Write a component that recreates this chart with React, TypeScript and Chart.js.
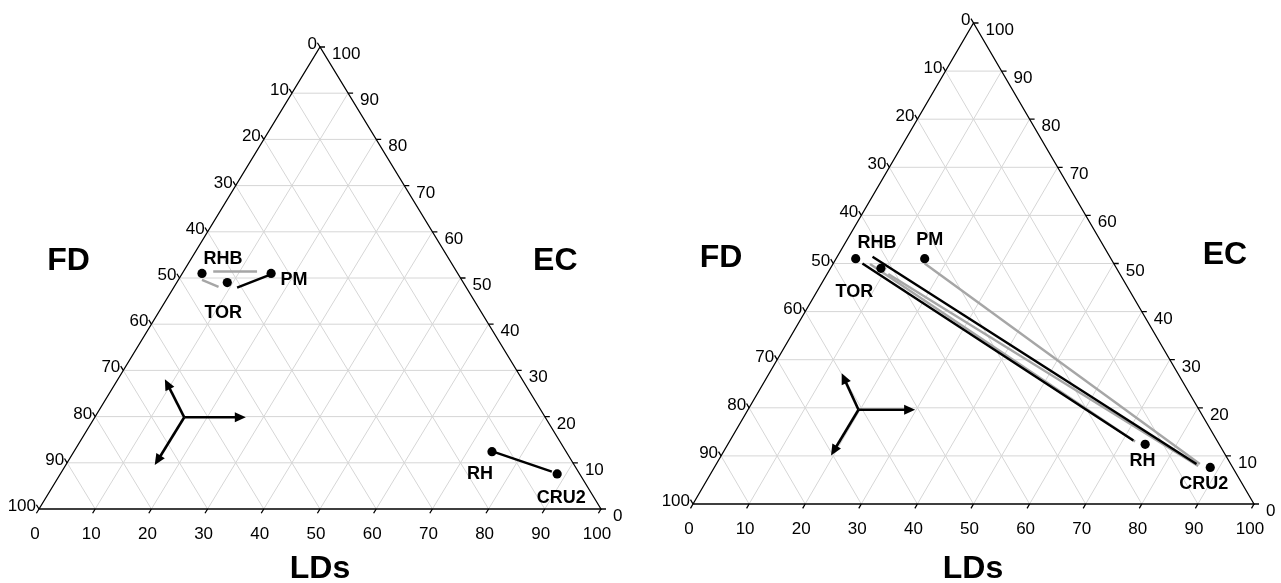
import React, { useEffect, useRef } from "react";
import { Chart, registerables } from "chart.js";

Chart.register(...registerables);

// ---------- data ----------
const tickValues = [0, 10, 20, 30, 40, 50, 60, 70, 80, 90, 100];
const gridValues = [10, 20, 30, 40, 50, 60, 70, 80, 90];
const titleBottom = "LDs";
const titleRight = "EC";
const titleLeft = "FD";

// sample composition (LDs, EC; FD = 100 - LDs - EC)
const sampleNames = ["RHB", "TOR", "PM", "RH", "CRU2"];
const sampleLDs = [3.5, 9.0, 15.8, 74.4, 88.4];
const sampleEC = [51.0, 49.0, 51.0, 12.4, 7.6];

// links, left panel
const leftLinkFromLDs = [5.3, 4.2, 11.3, 74.6];
const leftLinkFromEC = [51.4, 49.6, 47.9, 12.4];
const leftLinkToLDs = [13.1, 7.9, 15.7, 87.2];
const leftLinkToEC = [51.4, 48.1, 50.7, 8.1];
const leftLinkKind = ["grey", "grey", "black", "black"];

// links, right panel
const rightLinkFromLDs = [6.3, 5.2, 16.3, 6.6, 10.9];
const rightLinkFromEC = [51.4, 50.0, 50.0, 49.9, 47.8];
const rightLinkToLDs = [85.6, 71.9, 86.2, 72.3, 86.1];
const rightLinkToEC = [8.3, 13.2, 8.3, 13.0, 7.9];
const rightLinkKind = ["black", "black", "grey", "grey", "grey"];

// direction-arrow glyph (plot units x = LDs + EC/2, y = EC)
const leftArrowCenter = [25.85, 19.85];
const leftArrowTipsX = [36.8, 22.4, 20.6];
const leftArrowTipsY = [19.85, 28.1, 9.5];
const rightArrowCenter = [29.5, 19.6];
const rightArrowTipsX = [39.6, 26.5, 24.6];
const rightArrowTipsY = [19.6, 27.2, 10.1];

// ---------- styling ----------
const FONT = "Arial, 'Liberation Sans', Helvetica, sans-serif";
const GRID = "#d6d6d6";
const GREY_LINE = "#a6a6a6";

type Panel = {
  left: number;
  width: number;
  pad: { left: number; right: number; top: number; bottom: number };
  linkFromL: number[];
  linkFromE: number[];
  linkToL: number[];
  linkToE: number[];
  linkKind: string[];
  labelOffsets: number[][];
  arrowCenter: number[];
  arrowTipsX: number[];
  arrowTipsY: number[];
  titlePos: number[][]; // left, right, bottom (canvas px)
};

const ternaryPlugin = {
  id: "ternaryDecor",
  beforeDatasetsDraw(chart: any) {
    const { ctx } = chart;
    const xs = chart.scales.x;
    const ys = chart.scales.y;
    const P = (L: number, E: number) => [xs.getPixelForValue(L + E / 2), ys.getPixelForValue(E)];
    ctx.save();
    // grid
    ctx.strokeStyle = GRID;
    ctx.lineWidth = 1;
    ctx.beginPath();
    for (const k of gridValues) {
      let a = P(0, k), b = P(100 - k, k);
      ctx.moveTo(a[0], a[1]); ctx.lineTo(b[0], b[1]);
      a = P(k, 0); b = P(k, 100 - k);
      ctx.moveTo(a[0], a[1]); ctx.lineTo(b[0], b[1]);
      a = P(100 - k, 0); b = P(0, 100 - k);
      ctx.moveTo(a[0], a[1]); ctx.lineTo(b[0], b[1]);
    }
    ctx.stroke();
    // frame
    const BL = P(0, 0), BR = P(100, 0), AP = P(0, 100);
    ctx.strokeStyle = "#000";
    ctx.lineWidth = 1.3;
    ctx.beginPath();
    ctx.moveTo(BL[0], BL[1]); ctx.lineTo(BR[0], BR[1]); ctx.lineTo(AP[0], AP[1]); ctx.closePath();
    ctx.stroke();
    // ticks
    const norm = (v: number[]) => { const l = Math.hypot(v[0], v[1]); return [v[0] / l, v[1] / l]; };
    const dB = norm([BL[0] - AP[0], BL[1] - AP[1]]);
    const dL = norm([AP[0] - BR[0], AP[1] - BR[1]]);
    const T = 5;
    ctx.lineWidth = 1.3;
    ctx.beginPath();
    for (const k of tickValues) {
      let p = P(k, 0);
      ctx.moveTo(p[0], p[1]); ctx.lineTo(p[0] + T * dB[0], p[1] + T * dB[1]);
      p = P(100 - k, k);
      ctx.moveTo(p[0], p[1]); ctx.lineTo(p[0] + T, p[1]);
      p = P(0, 100 - k);
      ctx.moveTo(p[0], p[1]); ctx.lineTo(p[0] + T * dL[0], p[1] + T * dL[1]);
    }
    ctx.stroke();
    // tick labels
    ctx.fillStyle = "#000";
    ctx.font = `17px ${FONT}`;
    ctx.textBaseline = "alphabetic";
    const capMid = 17 * 0.358;
    for (const k of tickValues) {
      let p = P(k, 0);
      ctx.textAlign = "center";
      ctx.fillText(String(k), p[0] - 4, p[1] + 24 + capMid);
      p = P(100 - k, k);
      ctx.textAlign = "left";
      ctx.fillText(String(k), p[0] + 12, p[1] + 6 + capMid);
      p = P(0, 100 - k);
      ctx.textAlign = "right";
      ctx.fillText(String(k), p[0] - 3, p[1] - 4 + capMid);
    }
    ctx.restore();
  },
  afterDatasetsDraw(chart: any) {
    const { ctx } = chart;
    const cfg: Panel = chart.options.plugins.ternaryDecor.panel;
    const xs = chart.scales.x;
    const ys = chart.scales.y;
    ctx.save();
    // point labels
    ctx.fillStyle = "#000";
    ctx.font = `bold 18px ${FONT}`;
    ctx.textAlign = "center";
    ctx.textBaseline = "alphabetic";
    sampleNames.forEach((name, i) => {
      const px = xs.getPixelForValue(sampleLDs[i] + sampleEC[i] / 2);
      const py = ys.getPixelForValue(sampleEC[i]);
      const o = cfg.labelOffsets[i];
      ctx.fillText(name, px + o[0], py + o[1] + 18 * 0.358);
    });
    // arrows glyph
    const cx = xs.getPixelForValue(cfg.arrowCenter[0]);
    const cy = ys.getPixelForValue(cfg.arrowCenter[1]);
    ctx.strokeStyle = "#000";
    ctx.lineWidth = 2.6;
    cfg.arrowTipsX.forEach((tx, i) => {
      const ex = xs.getPixelForValue(tx);
      const ey = ys.getPixelForValue(cfg.arrowTipsY[i]);
      const len = Math.hypot(ex - cx, ey - cy);
      const ux = (ex - cx) / len, uy = (ey - cy) / len;
      const hl = 11, hw = 5;
      const bx = ex - ux * hl, by = ey - uy * hl;
      ctx.beginPath();
      ctx.moveTo(cx, cy); ctx.lineTo(bx + ux * 2, by + uy * 2);
      ctx.stroke();
      ctx.beginPath();
      ctx.moveTo(ex, ey);
      ctx.lineTo(bx - uy * hw, by + ux * hw);
      ctx.lineTo(bx + uy * hw, by - ux * hw);
      ctx.closePath();
      ctx.fillStyle = "#000";
      ctx.fill();
    });
    // axis titles
    ctx.font = `bold 32px ${FONT}`;
    ctx.textAlign = "center";
    const titles = [titleLeft, titleRight, titleBottom];
    titles.forEach((t, i) => {
      const tp = cfg.titlePos[i];
      ctx.fillText(t, tp[0], tp[1] + 32 * 0.358);
    });
    ctx.restore();
  },
};

function TernaryPanel({ cfg }: { cfg: Panel }) {
  const ref = useRef<HTMLCanvasElement | null>(null);
  useEffect(() => {
    if (!ref.current) return;
    const toXY = (L: number, E: number) => ({ x: L + E / 2, y: E });
    const linkSets = cfg.linkFromL.map((_, i) => ({
      data: [toXY(cfg.linkFromL[i], cfg.linkFromE[i]), toXY(cfg.linkToL[i], cfg.linkToE[i])],
      showLine: true,
      borderColor: cfg.linkKind[i] === "black" ? "#000" : GREY_LINE,
      borderWidth: 2.4,
      pointRadius: 0,
      order: cfg.linkKind[i] === "black" ? 2 : 3,
    }));
    const chart = new Chart(ref.current, {
      type: "scatter",
      data: {
        datasets: [
          {
            data: sampleNames.map((_, i) => toXY(sampleLDs[i], sampleEC[i])),
            pointRadius: 4.6,
            pointBackgroundColor: "#000",
            pointBorderWidth: 0,
            showLine: false,
            order: 1,
          } as any,
          ...linkSets,
        ],
      },
      options: {
        animation: false,
        responsive: false,
        devicePixelRatio: 1,
        layout: { padding: cfg.pad },
        scales: {
          x: { type: "linear", min: 0, max: 100, display: false },
          y: { type: "linear", min: 0, max: 100, display: false },
        },
        plugins: {
          legend: { display: false },
          tooltip: { enabled: false },
          ternaryDecor: { panel: cfg },
        } as any,
        events: [],
      },
      plugins: [ternaryPlugin as any],
    });
    return () => chart.destroy();
  }, [cfg]);
  return (
    <canvas
      ref={ref}
      width={cfg.width}
      height={583}
      style={{ position: "absolute", left: cfg.left, top: 0, width: cfg.width, height: 583 }}
    />
  );
}

const leftPanel: Panel = {
  left: 0,
  width: 640,
  pad: { left: 39, right: 39, top: 47, bottom: 74 },
  linkFromL: leftLinkFromLDs,
  linkFromE: leftLinkFromEC,
  linkToL: leftLinkToLDs,
  linkToE: leftLinkToEC,
  linkKind: leftLinkKind,
  labelOffsets: [[21, -16], [-4, 29], [23, 5], [-12, 20.5], [4, 22.7]],
  arrowCenter: leftArrowCenter,
  arrowTipsX: leftArrowTipsX,
  arrowTipsY: leftArrowTipsY,
  titlePos: [[68.5, 258.5], [555.3, 258.7], [320, 567]],
};

const rightPanel: Panel = {
  left: 640,
  width: 641,
  pad: { left: 53, right: 27, top: 23, bottom: 79 },
  linkFromL: rightLinkFromLDs,
  linkFromE: rightLinkFromEC,
  linkToL: rightLinkToLDs,
  linkToE: rightLinkToEC,
  linkKind: rightLinkKind,
  labelOffsets: [[21.3, -17.5], [-26.5, 22.7], [5, -19.7], [-2.6, 15], [-6.5, 14.8]],
  arrowCenter: rightArrowCenter,
  arrowTipsX: rightArrowTipsX,
  arrowTipsY: rightArrowTipsY,
  titlePos: [[81, 256], [585, 252.5], [333, 567]],
};

export default function App() {
  return (
    <div style={{ position: "fixed", left: 0, top: 0, width: 1281, height: 583, background: "#fff" }}>
      <TernaryPanel cfg={leftPanel} />
      <TernaryPanel cfg={rightPanel} />
    </div>
  );
}
